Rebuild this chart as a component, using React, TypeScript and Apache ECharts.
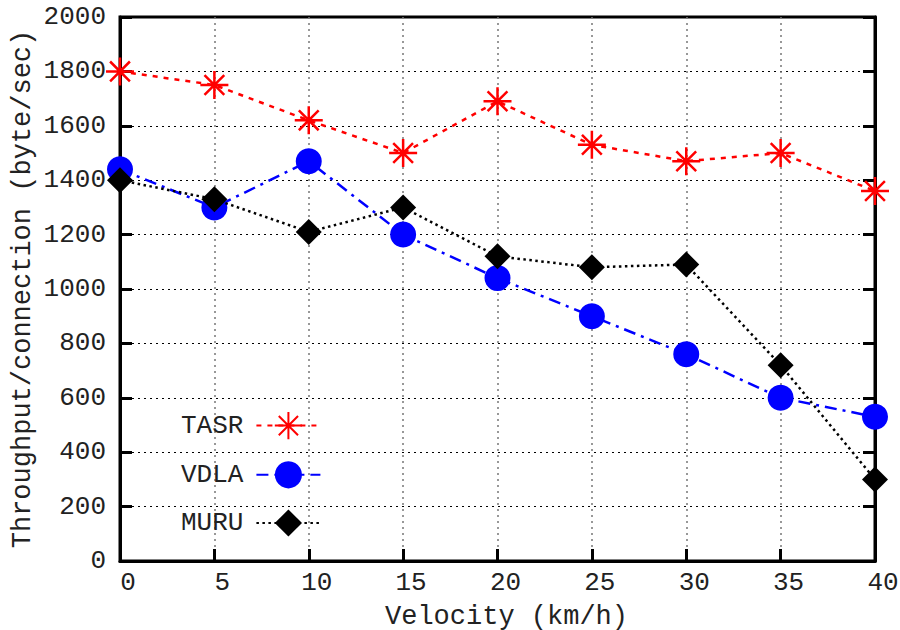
import React, { useEffect, useRef } from "react";
import * as echarts from "echarts";

const velocities = [0, 5, 10, 15, 20, 25, 30, 35, 40];
const tasr = [1800, 1750, 1620, 1500, 1690, 1530, 1470, 1500, 1360];
const vdla = [1440, 1300, 1470, 1200, 1040, 900, 760, 600, 530];
const muru = [1400, 1330, 1210, 1300, 1120, 1080, 1090, 720, 300];
const seriesNames = ["TASR", "VDLA", "MURU"];

const FONT = "'Liberation Mono', 'DejaVu Sans Mono', monospace";
const STAR = "path://M0,-10L0,10M-10,0L10,0M-7.07,-7.07L7.07,7.07M-7.07,7.07L7.07,-7.07";

const pairs = (ys: number[]) => velocities.map((x, i) => [x, ys[i]]);

export default function App() {
  const ref = useRef<HTMLDivElement>(null);
  useEffect(() => {
    if (!ref.current) return;
    const chart = echarts.init(ref.current, undefined, { renderer: "svg" });
    const tickStyle = { show: true, inside: true, length: 12, lineStyle: { color: "#000", width: 3 } };
    chart.setOption({
      animation: false,
      backgroundColor: "#fff",
      grid: {
        left: 120, right: 25, top: 17, bottom: 69,
        containLabel: false, outerBoundsMode: "none",
        show: true, borderColor: "#000", borderWidth: 3, backgroundColor: "transparent",
      },
      legend: {
        orient: "vertical",
        left: 176,
        top: 406,
        align: "right",
        itemWidth: 64,
        itemHeight: 34,
        itemGap: 21,
        data: seriesNames,
        textStyle: { fontFamily: FONT, fontSize: 26, color: "#222", padding: [0, 8, 0, 0] },
      },
      xAxis: [
        {
          type: "value",
          min: 0,
          max: 40,
          interval: 5,
          name: "Velocity (km/h)",
          nameLocation: "middle",
          nameGap: 42,
          nameTextStyle: { fontFamily: FONT, fontSize: 27, color: "#222", padding: [0, 0, 0, 18] },
          axisLine: { show: true, lineStyle: { color: "#000", width: 3 } },
          axisTick: tickStyle,
          axisLabel: { fontFamily: FONT, fontSize: 26, color: "#222", margin: 9, padding: [0, 0, 0, 16], formatter: (v: number) => String(v) },
          splitLine: { show: true, lineStyle: { color: "#777", width: 1.5, type: [2, 4] } },
        },
      ],
      yAxis: [
        {
          type: "value",
          min: 0,
          max: 2000,
          interval: 200,
          name: "Throughput/connection (byte/sec)",
          nameLocation: "middle",
          nameGap: 84,
          nameMoveOverlap: false,
          nameTextStyle: { fontFamily: FONT, fontSize: 27, color: "#222" },
          axisLine: { show: true, lineStyle: { color: "#000", width: 3 } },
          axisTick: tickStyle,
          axisLabel: { fontFamily: FONT, fontSize: 26, color: "#222", margin: 14, formatter: (v: number) => String(v) },
          splitLine: { show: true, lineStyle: { color: "#000", width: 1, type: [2, 4] } },
        },
        {
          type: "value",
          position: "right",
          min: 0,
          max: 2000,
          interval: 200,
          axisLine: { show: true, lineStyle: { color: "#000", width: 3 } },
          axisTick: tickStyle,
          axisLabel: { show: false },
          splitLine: { show: false },
        },
      ],
      series: [
        {
          name: "TASR",
          type: "line",
          data: pairs(tasr),
          clip: false,
          symbol: STAR,
          symbolSize: 28,
          lineStyle: { color: "#ff0000", width: 2.5, type: [5, 6] },
          itemStyle: { color: "transparent", borderColor: "#ff0000", borderWidth: 2.5 },
          z: 3,
        },
        {
          name: "VDLA",
          type: "line",
          data: pairs(vdla),
          clip: false,
          symbol: "circle",
          symbolSize: 26,
          lineStyle: { color: "#0000ff", width: 2.5, type: [12, 6, 3, 6] },
          itemStyle: { color: "#0000ff", borderWidth: 0 },
          z: 4,
        },
        {
          name: "MURU",
          type: "line",
          data: pairs(muru),
          clip: false,
          symbol: "diamond",
          symbolSize: 26,
          lineStyle: { color: "#000", width: 2.5, type: [2.5, 3.5] },
          itemStyle: { color: "#000", borderWidth: 0 },
          z: 5,
        },
      ],
    });
    return () => chart.dispose();
  }, []);
  return <div ref={ref} style={{ width: 900, height: 630, position: "absolute", left: 0, top: 0 }} />;
}
